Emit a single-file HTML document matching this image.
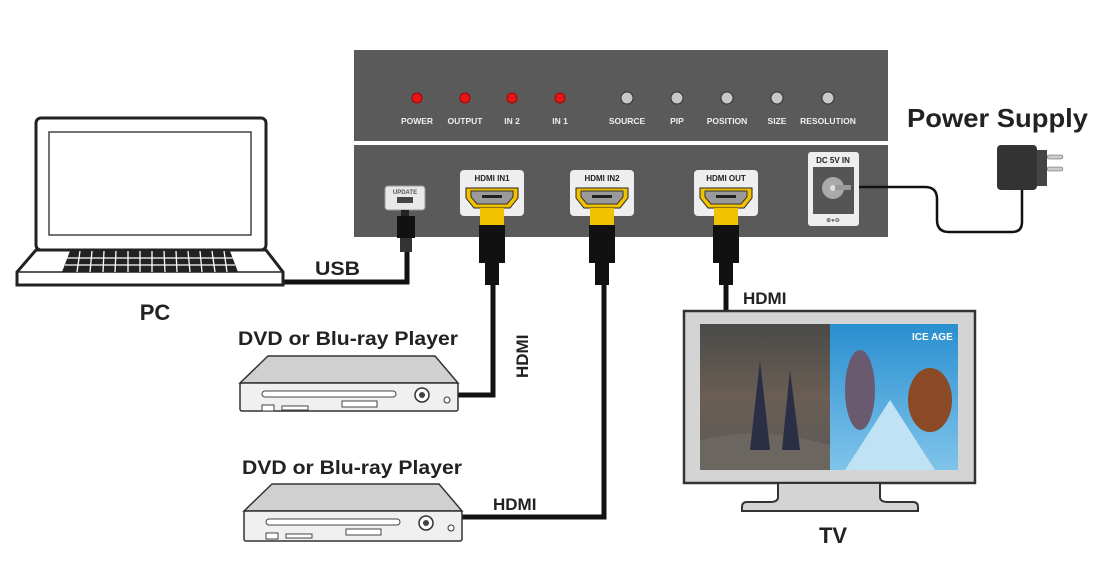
<!DOCTYPE html>
<html><head><meta charset="utf-8"><style>
html,body{margin:0;padding:0;background:#fff;width:1100px;height:585px;overflow:hidden}
svg{display:block}
text{font-family:"Liberation Sans",Arial,sans-serif;font-weight:bold}
</style></head><body>
<svg width="1100" height="585" viewBox="0 0 1100 585" xmlns="http://www.w3.org/2000/svg">
<defs>
<linearGradient id="sky" x1="0" y1="0" x2="0" y2="1"><stop offset="0" stop-color="#2a8fd0"/><stop offset="1" stop-color="#7fc4ea"/></linearGradient>
<linearGradient id="ruin" x1="0" y1="0" x2="0" y2="1"><stop offset="0" stop-color="#4a4a48"/><stop offset="0.5" stop-color="#6a5e55"/><stop offset="1" stop-color="#5a5856"/></linearGradient>
</defs>
<rect x="354" y="50" width="534" height="91" fill="#5a5a5a"/>
<g fill="#e01818" stroke="#a00" stroke-width="1">
<circle cx="417" cy="98" r="5"/><circle cx="465" cy="98" r="5"/><circle cx="512" cy="98" r="5"/><circle cx="560" cy="98" r="5"/></g>
<g fill="#c8c8c8" stroke="#333" stroke-width="1">
<circle cx="627" cy="98" r="6"/><circle cx="677" cy="98" r="6"/><circle cx="727" cy="98" r="6"/><circle cx="777" cy="98" r="6"/><circle cx="828" cy="98" r="6"/></g>
<g fill="#eee" font-size="8.5" text-anchor="middle">
<text x="417" y="124">POWER</text><text x="465" y="124">OUTPUT</text><text x="512" y="124">IN 2</text><text x="560" y="124">IN 1</text>
<text x="627" y="124">SOURCE</text><text x="677" y="124">PIP</text><text x="727" y="124">POSITION</text><text x="777" y="124">SIZE</text><text x="828" y="124">RESOLUTION</text></g>
<rect x="354" y="145" width="534" height="92" fill="#5a5a5a"/>
<rect x="385" y="186" width="40" height="24" rx="3" fill="#e8e8e8" stroke="#999"/>
<text x="405" y="194" font-size="6" fill="#555" text-anchor="middle">UPDATE</text>
<rect x="397" y="197" width="16" height="6" fill="#444"/>
<rect x="401" y="210" width="8" height="6" fill="#222"/>
<g fill="none" stroke="#111" stroke-width="5">
<path d="M407 250 V282 H283"/>
<path d="M493 280 V395 H458"/>
<path d="M604 280 V517 H462"/>
<path d="M726 280 V312"/>
</g>
<path d="M850 187 H925 Q937 187 937 199 V220 Q937 232 949 232 H1012 Q1022 232 1022 222 V190" fill="none" stroke="#111" stroke-width="2.5"/>
<rect x="397" y="216" width="18" height="22" fill="#111"/>
<rect x="400" y="238" width="12" height="14" fill="#333"/>
<g>
<g transform="translate(460,170)">
<rect width="64" height="46" rx="4" fill="#eee"/><text x="32" y="11" font-size="8" fill="#222" text-anchor="middle">HDMI IN1</text>
<path d="M6 18 H58 V28 L50 38 H14 L6 28Z" fill="#f2c200" stroke="#222"/>
<path d="M11 21 H53 V27 L47 34 H17 L11 27Z" fill="#9a9a9a" stroke="#333"/>
<rect x="22" y="25" width="20" height="3" fill="#222"/>
<rect x="20" y="38" width="24" height="17" fill="#f2c200"/>
<rect x="19" y="55" width="26" height="38" fill="#111"/>
<rect x="25" y="93" width="14" height="22" fill="#111"/>
</g>
<g transform="translate(570,170)">
<rect width="64" height="46" rx="4" fill="#eee"/><text x="32" y="11" font-size="8" fill="#222" text-anchor="middle">HDMI IN2</text>
<path d="M6 18 H58 V28 L50 38 H14 L6 28Z" fill="#f2c200" stroke="#222"/>
<path d="M11 21 H53 V27 L47 34 H17 L11 27Z" fill="#9a9a9a" stroke="#333"/>
<rect x="22" y="25" width="20" height="3" fill="#222"/>
<rect x="20" y="38" width="24" height="17" fill="#f2c200"/>
<rect x="19" y="55" width="26" height="38" fill="#111"/>
<rect x="25" y="93" width="14" height="22" fill="#111"/>
</g>
<g transform="translate(694,170)">
<rect width="64" height="46" rx="4" fill="#eee"/><text x="32" y="11" font-size="8" fill="#222" text-anchor="middle">HDMI OUT</text>
<path d="M6 18 H58 V28 L50 38 H14 L6 28Z" fill="#f2c200" stroke="#222"/>
<path d="M11 21 H53 V27 L47 34 H17 L11 27Z" fill="#9a9a9a" stroke="#333"/>
<rect x="22" y="25" width="20" height="3" fill="#222"/>
<rect x="20" y="38" width="24" height="17" fill="#f2c200"/>
<rect x="19" y="55" width="26" height="38" fill="#111"/>
<rect x="25" y="93" width="14" height="22" fill="#111"/>
</g>
</g>
<rect x="808" y="152" width="51" height="74" rx="3" fill="#eee"/>
<text x="833" y="163" font-size="8" fill="#222" text-anchor="middle">DC 5V IN</text>
<rect x="813" y="167" width="41" height="47" fill="#555"/>
<circle cx="833" cy="188" r="11" fill="#aaa"/><circle cx="833" cy="188" r="3" fill="#ddd"/>
<rect x="835" y="185" width="16" height="5" fill="#999"/>
<text x="833" y="222" font-size="6" fill="#666" text-anchor="middle">⊕●⊖</text>
<text x="907" y="127" font-size="26" fill="#222" textLength="181" lengthAdjust="spacingAndGlyphs">Power Supply</text>
<rect x="997" y="145" width="40" height="45" rx="4" fill="#333"/>
<rect x="1037" y="150" width="10" height="36" fill="#444"/>
<rect x="1047" y="155" width="16" height="4" rx="2" fill="#ccc" stroke="#555" stroke-width=".5"/>
<rect x="1047" y="167" width="16" height="4" rx="2" fill="#ccc" stroke="#555" stroke-width=".5"/>
<rect x="36" y="118" width="230" height="132" rx="5" fill="#fff" stroke="#222" stroke-width="3"/>
<rect x="49" y="132" width="202" height="103" fill="#fff" stroke="#444" stroke-width="1.5"/>
<path d="M36 250 L17 272 V285 H283 V272 L266 250Z" fill="#fff" stroke="#222" stroke-width="3"/>
<path d="M17 272 H283" stroke="#222" stroke-width="1.5"/>
<g fill="#222"><path d="M70 251 H230 L238 272 H62Z"/></g>
<g stroke="#fff" stroke-width="1.3">
<path d="M67 258 H233 M65 265 H235"/>
<path d="M80 251 L77 272 M92 251 L90 272 M104 251 L103 272 M116 251 L115 272 M128 251 L128 272 M140 251 L140 272 M152 251 L152 272 M164 251 L165 272 M176 251 L177 272 M188 251 L190 272 M200 251 L202 272 M212 251 L215 272 M224 251 L227 272"/></g>
<text x="155" y="320" font-size="22" fill="#222" text-anchor="middle">PC</text>
<text x="315" y="275" font-size="19" fill="#222" textLength="45" lengthAdjust="spacingAndGlyphs">USB</text>
<text x="238" y="345" font-size="19" fill="#222" textLength="220" lengthAdjust="spacingAndGlyphs">DVD or Blu-ray Player</text>
<g>
<path d="M240 383 L268 356 H435 L458 383Z" fill="#d0d0d0" stroke="#333" stroke-width="1.5"/>
<rect x="240" y="383" width="218" height="28" rx="2" fill="#f0f0f0" stroke="#333" stroke-width="1.5"/>
<rect x="262" y="391" width="134" height="6" rx="3" fill="#fff" stroke="#444"/>
<rect x="262" y="405" width="12" height="6" fill="#fff" stroke="#444"/>
<rect x="282" y="406" width="26" height="4" fill="#fff" stroke="#444"/>
<rect x="342" y="401" width="35" height="6" fill="#fff" stroke="#444"/>
<circle cx="422" cy="395" r="7" fill="#fff" stroke="#333" stroke-width="1.5"/><circle cx="422" cy="395" r="3" fill="#444"/>
<circle cx="447" cy="400" r="3" fill="#fff" stroke="#333"/>
</g>
<text x="242" y="474" font-size="19" fill="#222" textLength="220" lengthAdjust="spacingAndGlyphs">DVD or Blu-ray Player</text>
<g transform="translate(4,128)">
<path d="M240 383 L268 356 H435 L458 383Z" fill="#d0d0d0" stroke="#333" stroke-width="1.5"/>
<rect x="240" y="383" width="218" height="30" rx="2" fill="#f0f0f0" stroke="#333" stroke-width="1.5"/>
<rect x="262" y="391" width="134" height="6" rx="3" fill="#fff" stroke="#444"/>
<rect x="262" y="405" width="12" height="6" fill="#fff" stroke="#444"/>
<rect x="282" y="406" width="26" height="4" fill="#fff" stroke="#444"/>
<rect x="342" y="401" width="35" height="6" fill="#fff" stroke="#444"/>
<circle cx="422" cy="395" r="7" fill="#fff" stroke="#333" stroke-width="1.5"/><circle cx="422" cy="395" r="3" fill="#444"/>
<circle cx="447" cy="400" r="3" fill="#fff" stroke="#333"/>
</g>
<text transform="translate(528,378) rotate(-90)" font-size="17" fill="#222">HDMI</text>
<text x="493" y="510" font-size="17" fill="#222">HDMI</text>
<text x="743" y="304" font-size="17" fill="#222">HDMI</text>
<rect x="684" y="311" width="291" height="172" fill="#d4d4d4" stroke="#333" stroke-width="2.5"/>
<rect x="700" y="324" width="130" height="146" fill="url(#ruin)"/>
<rect x="830" y="324" width="128" height="146" fill="url(#sky)"/>
<path d="M700 440 Q760 425 830 445 V470 H700Z" fill="#6b6660"/>
<path d="M760 360 L750 450 H770Z M790 370 L782 450 H800Z" fill="#2a2f45"/>
<path d="M845 470 L890 400 L935 470Z" fill="#bfe3f5"/>
<ellipse cx="930" cy="400" rx="22" ry="32" fill="#8a4a25"/>
<ellipse cx="860" cy="390" rx="15" ry="40" fill="#6a5a70"/>
<text x="912" y="340" font-size="10" fill="#fff">ICE AGE</text>
<path d="M778 483 V497 Q778 502 770 502 H747 Q742 502 742 507 V511 H918 V507 Q918 502 913 502 H888 Q880 502 880 497 V483Z" fill="#d4d4d4" stroke="#333" stroke-width="2"/>
<text x="833" y="543" font-size="22" fill="#222" text-anchor="middle">TV</text>
</svg>
</body></html>
